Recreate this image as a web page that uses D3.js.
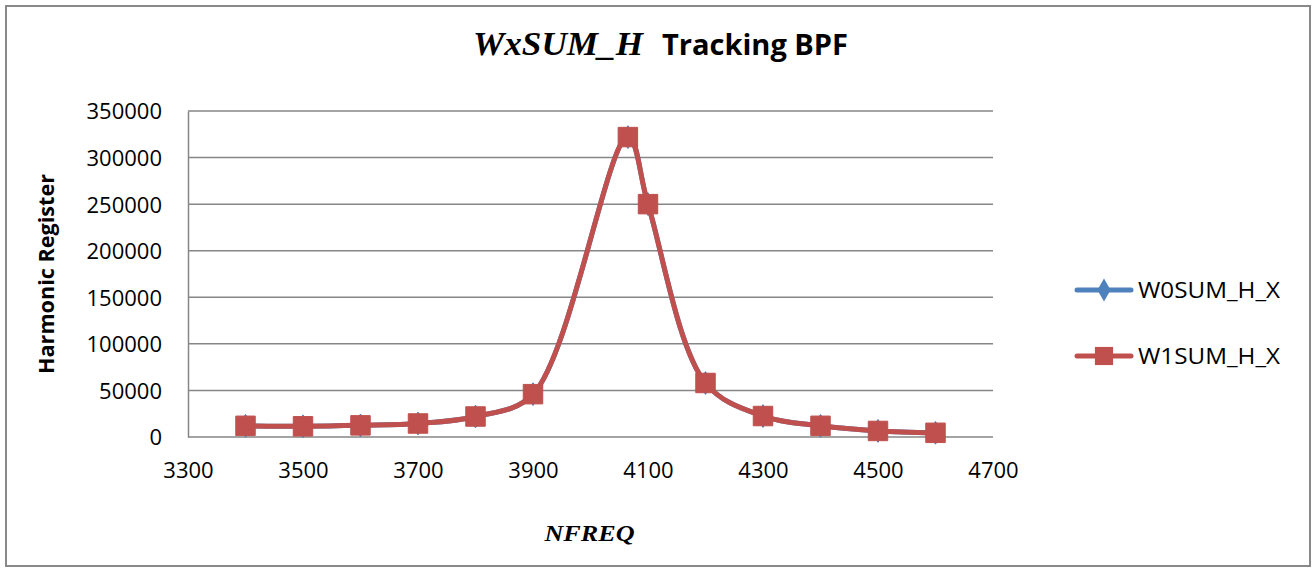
<!DOCTYPE html>
<html>
<head>
<meta charset="utf-8">
<script src="https://cdn.jsdelivr.net/npm/d3@7"></script>
<style>
  body { margin: 0; background: #fff; }
  text { font-family: "Open Sans", "Liberation Sans", sans-serif; fill: #000; }
</style>
</head>
<body>
<svg id="chart"></svg>
<script>
// data (both series overlap exactly)
var nfreq = [3400, 3500, 3600, 3700, 3800, 3900, 4065, 4100, 4200, 4300, 4400, 4500, 4600];
var w0sum = [12000, 11500, 12500, 14500, 22000, 46000, 322000, 250000, 58000, 22500, 12000, 6500, 4500];
var w1sum = [12000, 11500, 12500, 14500, 22000, 46000, 322000, 250000, 58000, 22500, 12000, 6500, 4500];
var seriesNames = ["W0SUM_H_X", "W1SUM_H_X"];
var xTicks = [3300, 3500, 3700, 3900, 4100, 4300, 4500, 4700];
var yTicks = [0, 50000, 100000, 150000, 200000, 250000, 300000, 350000];

var W = 1316, H = 572;
var margin = { top: 111, right: 323, bottom: 135, left: 188 };
var width = W - margin.left - margin.right;
var height = H - margin.top - margin.bottom;

var blue = "#4F81BD", red = "#C0504D", gridColor = "#868686";

var svg = d3.select("#chart")
    .attr("width", W)
    .attr("height", H);

// chart border
svg.append("rect")
    .attr("x", 6)
    .attr("y", 6)
    .attr("width", W - 12)
    .attr("height", H - 12)
    .attr("fill", "#fff")
    .attr("stroke", "#898989")
    .attr("stroke-width", 2);

var xScale = d3.scaleLinear()
    .domain([3300, 4700])
    .range([0, width]);

var yScale = d3.scaleLinear()
    .domain([0, 350000])
    .range([height, 0]);

var g = svg.append("g")
    .attr("transform", "translate(" + margin.left + "," + margin.top + ")");

// horizontal gridlines
g.append("g")
    .selectAll("line")
    .data(yTicks)
    .enter().append("line")
        .attr("x1", 0)
        .attr("x2", width)
        .attr("y1", function(d){ return yScale(d); })
        .attr("y2", function(d){ return yScale(d); })
        .attr("stroke", gridColor)
        .attr("stroke-width", 1.5);

// y axis
var yAxis = d3.axisLeft(yScale)
    .tickValues(yTicks)
    .tickSize(0)
    .tickPadding(26)
    .tickFormat(d3.format("d"));
var yAxisGroup = g.append("g").call(yAxis);
yAxisGroup.select(".domain").attr("stroke", gridColor).attr("stroke-width", 1.5);
yAxisGroup.selectAll("text")
    .style("font-size", "22px")
    .attr("dy", "0.36em");

// x axis
var xAxis = d3.axisBottom(xScale)
    .tickValues(xTicks)
    .tickSize(0)
    .tickPadding(25)
    .tickFormat(d3.format("d"));
var xAxisGroup = g.append("g")
    .attr("transform", "translate(0," + height + ")")
    .call(xAxis);
xAxisGroup.select(".domain").remove();
xAxisGroup.selectAll("text")
    .style("font-size", "22px");

// axis titles
svg.append("text")
    .attr("transform", "translate(54," + (margin.top + height / 2) + ") rotate(-90)")
    .attr("text-anchor", "middle")
    .style("font-size", "21px")
    .style("font-weight", "bold")
    .attr("textLength", 200)
    .attr("lengthAdjust", "spacingAndGlyphs")
    .text("Harmonic Register");

svg.append("text")
    .attr("x", margin.left + width / 2 - 1)
    .attr("y", 541)
    .attr("text-anchor", "middle")
    .style("font-family", "'Liberation Serif', serif")
    .style("font-style", "italic")
    .style("font-weight", "bold")
    .style("font-size", "24px")
    .attr("textLength", 90)
    .attr("lengthAdjust", "spacingAndGlyphs")
    .text("NFREQ");

// title
svg.append("text")
    .attr("x", 473)
    .attr("y", 55)
    .style("font-family", "'Liberation Serif', serif")
    .style("font-style", "italic")
    .style("font-weight", "bold")
    .style("font-size", "33px")
    .attr("textLength", 170)
    .attr("lengthAdjust", "spacingAndGlyphs")
    .text("WxSUM_H");

svg.append("text")
    .attr("x", 662)
    .attr("y", 55)
    .style("font-weight", "bold")
    .style("font-size", "28px")
    .attr("textLength", 186)
    .attr("lengthAdjust", "spacingAndGlyphs")
    .text("Tracking BPF");

// smoothed lines
var lineGen = d3.line()
    .x(function(d){ return xScale(d[0]); })
    .y(function(d){ return yScale(d[1]); })
    .curve(d3.curveCatmullRom.alpha(0.5));

var series = [
    { name: seriesNames[0], values: d3.zip(nfreq, w0sum), color: blue, marker: d3.symbolDiamond, size: 150 },
    { name: seriesNames[1], values: d3.zip(nfreq, w1sum), color: red, marker: d3.symbolSquare, size: 380 }
];

series.forEach(function(s){
    g.append("path")
        .attr("d", lineGen(s.values))
        .attr("fill", "none")
        .attr("stroke", s.color)
        .attr("stroke-width", 5)
        .attr("stroke-linecap", "round");

    g.selectAll(".m-" + s.name)
        .data(s.values)
        .enter().append("path")
            .attr("class", "m-" + s.name)
            .attr("transform", function(d){ return "translate(" + xScale(d[0]) + "," + yScale(d[1]) + ")"; })
            .attr("d", d3.symbol().type(s.marker).size(s.size))
            .attr("fill", s.color)
            .attr("stroke", s.color)
            .attr("stroke-width", 1);
});

// legend
var legendG = svg.append("g")
    .attr("transform", "translate(1077,290)");
var legendRows = legendG.selectAll("g")
    .data(series)
    .enter().append("g")
        .attr("transform", function(d, i){ return "translate(0," + (i * 66) + ")"; });
legendRows.append("line")
    .attr("x1", 0)
    .attr("x2", 54)
    .attr("stroke", function(d){ return d.color; })
    .attr("stroke-width", 5)
    .attr("stroke-linecap", "round");
legendRows.append("path")
    .attr("transform", "translate(27,0)")
    .attr("d", function(d){ return d3.symbol().type(d.marker).size(d.name === seriesNames[0] ? 150 : 330)(); })
    .attr("fill", function(d){ return d.color; });
legendRows.append("text")
    .attr("x", 61)
    .attr("dy", "0.36em")
    .style("font-size", "21px")
    .attr("textLength", 142)
    .attr("lengthAdjust", "spacingAndGlyphs")
    .text(function(d){ return d.name; });
</script>
</body>
</html>
